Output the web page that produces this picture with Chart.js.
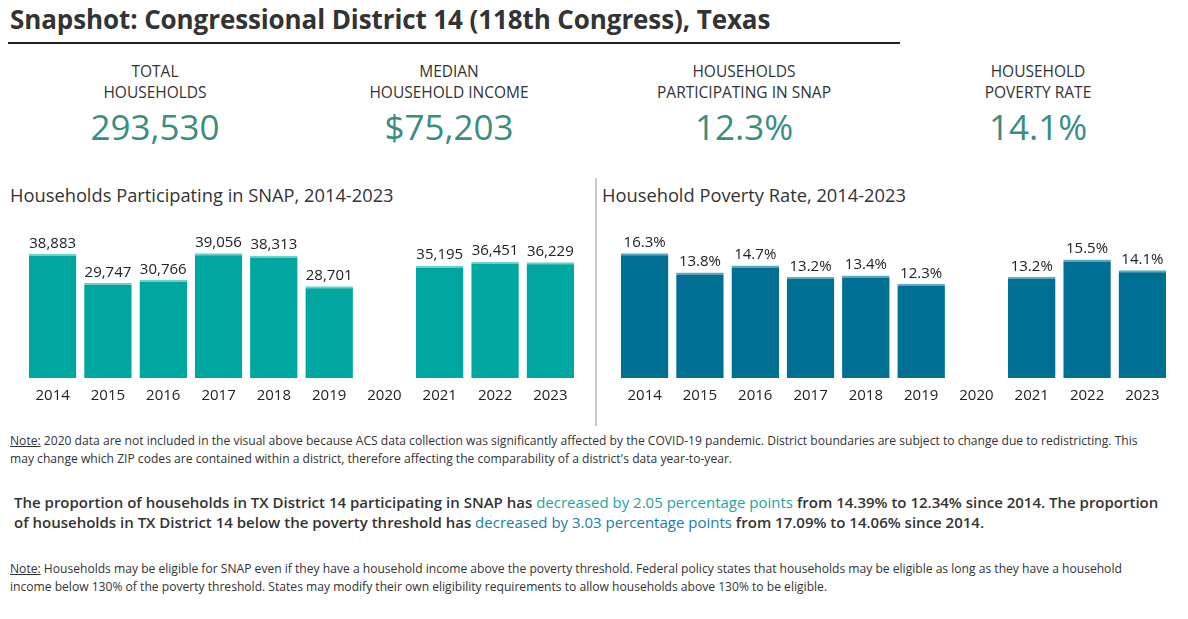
<!DOCTYPE html>
<html>
<head>
<meta charset="utf-8">
<script src="https://cdn.jsdelivr.net/npm/chart.js@4"></script>
<style>
  body { margin: 0; width: 1188px; height: 619px; background: #fff; font-family: "Open Sans", "Noto Sans", sans-serif; color: #333; position: relative; overflow: hidden; }
  .abs { position: absolute; }
  #titulo { left: 10px; top: 1px; font-size: 26px; font-weight: 700; color: #333; white-space: nowrap; letter-spacing: -0.1px; }
  #regla { left: 8px; top: 42px; width: 892px; height: 2px; background: #222; }
  .kpi { top: 61px; width: 300px; text-align: center; }
  .kpi .et { font-size: 15.5px; line-height: 21px; color: #333; }
  .kpi .val { font-size: 35px; line-height: 40px; color: #3a8d7f; margin-top: 4px; }
  .subt { top: 182px; font-size: 18.3px; color: #333; white-space: nowrap; font-weight: 500; }
  #divisor { left: 595px; top: 178px; width: 2px; height: 248px; background: #c8c8c8; }
  .nota { left: 10px; font-size: 12.1px; line-height: 18px; color: #333; width: 1150px; }
  .nota u { text-decoration: underline; }
  #resumen { left: 14px; top: 492px; width: 1155px; font-size: 15px; line-height: 20px; font-weight: 600; color: #333; }
  .t1 { color: #1aa69f; font-weight: 500; }
  .t2 { color: #1a7ea6; font-weight: 500; }
  canvas { position: absolute; }
</style>
</head>
<body>
<div id="titulo" class="abs">Snapshot: Congressional District 14 (118th Congress), Texas</div>
<div id="regla" class="abs"></div>

<div class="abs kpi" style="left:5px"><div class="et">TOTAL<br>HOUSEHOLDS</div><div class="val">293,530</div></div>
<div class="abs kpi" style="left:299px"><div class="et">MEDIAN<br>HOUSEHOLD INCOME</div><div class="val">$75,203</div></div>
<div class="abs kpi" style="left:594px"><div class="et">HOUSEHOLDS<br>PARTICIPATING IN SNAP</div><div class="val">12.3%</div></div>
<div class="abs kpi" style="left:888px"><div class="et">HOUSEHOLD<br>POVERTY RATE</div><div class="val">14.1%</div></div>

<div class="abs subt" style="left:10px">Households Participating in SNAP, 2014-2023</div>
<div class="abs subt" style="left:602px">Household Poverty Rate, 2014-2023</div>
<div id="divisor" class="abs"></div>

<canvas id="grafico-snap" width="600" height="195" style="left:0;top:220px"></canvas>
<canvas id="grafico-pobreza" width="596" height="195" style="left:592px;top:220px"></canvas>

<div class="abs nota" style="top:432px"><u>Note:</u> 2020 data are not included in the visual above because ACS data collection was significantly affected by the COVID-19 pandemic. District boundaries are subject to change due to redistricting. This may change which ZIP codes are contained within a district, therefore affecting the comparability of a district's data year-to-year.</div>

<div id="resumen" class="abs">The proportion of households in TX District 14 participating in SNAP has <span class="t1">decreased by 2.05 percentage points</span> from 14.39% to 12.34% since 2014. The proportion of households in TX District 14 below the poverty threshold has <span class="t2">decreased by 3.03 percentage points</span> from 17.09% to 14.06% since 2014.</div>

<div class="abs nota" style="top:560px"><u>Note:</u> Households may be eligible for SNAP even if they have a household income above the poverty threshold. Federal policy states that households may be eligible as long as they have a household income below 130% of the poverty threshold. States may modify their own eligibility requirements to allow households above 130% to be eligible.</div>

<script>
const anios = ['2014', '2015', '2016', '2017', '2018', '2019', '2020', '2021', '2022', '2023'];
const hogaresSnap = [38883, 29747, 30766, 39056, 38313, 28701, null, 35195, 36451, 36229];
const tasaPobreza = [16.3, 13.8, 14.7, 13.2, 13.4, 12.3, null, 13.2, 15.5, 14.1];

const etiquetasBarras = {
    id: 'etiquetasBarras',
    afterDatasetsDraw(chart, args, opts) {
        const ctx = chart.ctx;
        const meta = chart.getDatasetMeta(0);
        ctx.save();
        ctx.font = '15px "Open Sans", "Noto Sans", sans-serif';
        ctx.fillStyle = '#222';
        ctx.textAlign = 'center';
        ctx.textBaseline = 'bottom';
        meta.data.forEach((barra, i) => {
            const v = chart.data.datasets[0].data[i];
            if (v == null) return;
            ctx.fillText(opts.formato(v), barra.x, barra.y - 3);
        });
        ctx.restore();
    },
};

function graficoBarras(canvas, datos, color, borde, formato, padIzq, padDer) {
    new Chart(canvas, {
        type: 'bar',
        data: {
            labels: anios,
            datasets: [{
                data: datos,
                backgroundColor: color,
                borderColor: borde,
                borderWidth: { top: 2, left: 0, right: 0, bottom: 0 },
                borderSkipped: 'bottom',
                categoryPercentage: 1,
                barPercentage: 0.86,
            }],
        },
        options: {
            responsive: false,
            animation: false,
            layout: { padding: { top: 10, left: padIzq, right: padDer, bottom: 7 } },
            plugins: {
                legend: { display: false },
                tooltip: { enabled: false },
                etiquetasBarras: { formato },
            },
            scales: {
                x: {
                    grid: { display: false, drawTicks: false },
                    border: { display: false },
                    ticks: { color: '#222', font: { size: 15, family: '"Open Sans", "Noto Sans", sans-serif' }, padding: 9, maxRotation: 0, autoSkip: false },
                    afterFit: (escala) => { escala.height = 30; },
                },
                y: {
                    display: false,
                    min: 0,
                    max: Math.max(...datos.filter((d) => d != null)) * 1.187,
                },
            },
        },
        plugins: [etiquetasBarras],
    });
}

graficoBarras(document.querySelector('#grafico-snap'), hogaresSnap, '#00a6a0', '#6fcfca',
    (v) => v.toLocaleString('en-US'), 25, 22);
graficoBarras(document.querySelector('#grafico-pobreza'), tasaPobreza, '#006f94', '#5fa9c4',
    (v) => v.toFixed(1) + '%', 25, 18);
</script>
</body>
</html>
